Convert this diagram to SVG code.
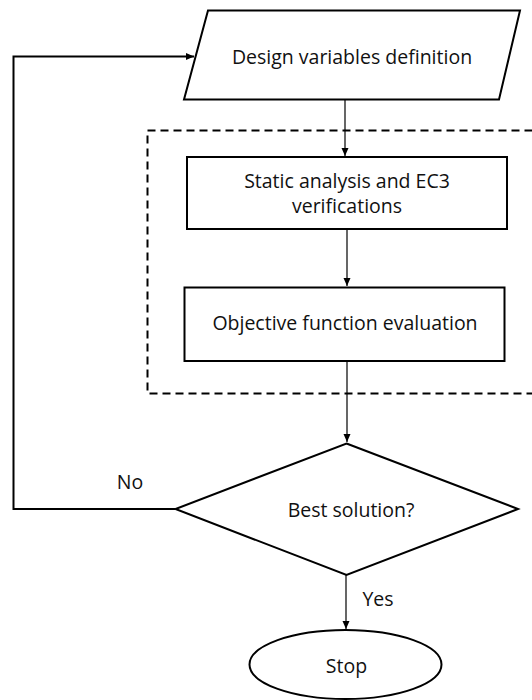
<svg xmlns="http://www.w3.org/2000/svg" width="532" height="700" viewBox="0 0 532 700">
  <style>
    .shape { fill: #ffffff; stroke: #000000; stroke-width: 2; }
    .label { font-family: "Open Sans", "Liberation Sans", sans-serif; font-size: 19.5px; fill: #111111; text-anchor: middle; }
    .thin { fill: none; stroke: #000000; stroke-width: 1.2; }
    .thick { fill: none; stroke: #000000; stroke-width: 2; }
    .group-box { fill: none; stroke: #000000; stroke-width: 2; stroke-dasharray: 8 5; }
  </style>
  <defs>
    <marker id="arrow" markerWidth="10" markerHeight="10" refX="8" refY="5" orient="auto" markerUnits="userSpaceOnUse">
      <path d="M0,1.5 L8,5 L0,8.5 Z" fill="#000000"/>
    </marker>
  </defs>

  <rect width="532" height="700" fill="#ffffff"/>

  <!-- dashed frame around the analysis steps -->
  <rect id="analysis-frame" class="group-box" x="147.5" y="130.5" width="400" height="263"/>

  <!-- connectors -->
  <g id="connectors">
    <line class="thin" x1="345" y1="100" x2="345" y2="156" marker-end="url(#arrow)"/>
    <line class="thin" x1="347" y1="230" x2="347" y2="286" marker-end="url(#arrow)"/>
    <line class="thin" x1="347" y1="362" x2="347" y2="442" marker-end="url(#arrow)"/>
    <line class="thin" x1="346" y1="575" x2="346" y2="629" marker-end="url(#arrow)"/>
    <polyline class="thick" points="175,509 13.5,509 13.5,56.5 194,56.5" marker-end="url(#arrow)"/>
    <text class="label" x="130" y="489">No</text>
    <text class="label" x="378" y="606">Yes</text>
  </g>

  <g id="design-variables">
    <polygon class="shape" points="208,10.5 520,10.5 499,99.5 184,99.5"/>
    <text class="label" x="352" y="64">Design variables definition</text>
  </g>

  <g id="static-analysis">
    <rect class="shape" x="187" y="157" width="320" height="72"/>
    <text class="label" x="347" y="188">Static analysis and EC3</text>
    <text class="label" x="347" y="213">verifications</text>
  </g>

  <g id="objective-function">
    <rect class="shape" x="184.5" y="287.5" width="320" height="73.5"/>
    <text class="label" x="345" y="330">Objective function evaluation</text>
  </g>

  <g id="best-solution">
    <polygon class="shape" points="346.5,443.5 518,509 346.5,575 175.5,509"/>
    <text class="label" x="351" y="517">Best solution?</text>
  </g>

  <g id="stop">
    <ellipse class="shape" cx="345.5" cy="664.5" rx="96" ry="34.5"/>
    <text class="label" x="346.5" y="673">Stop</text>
  </g>
</svg>
